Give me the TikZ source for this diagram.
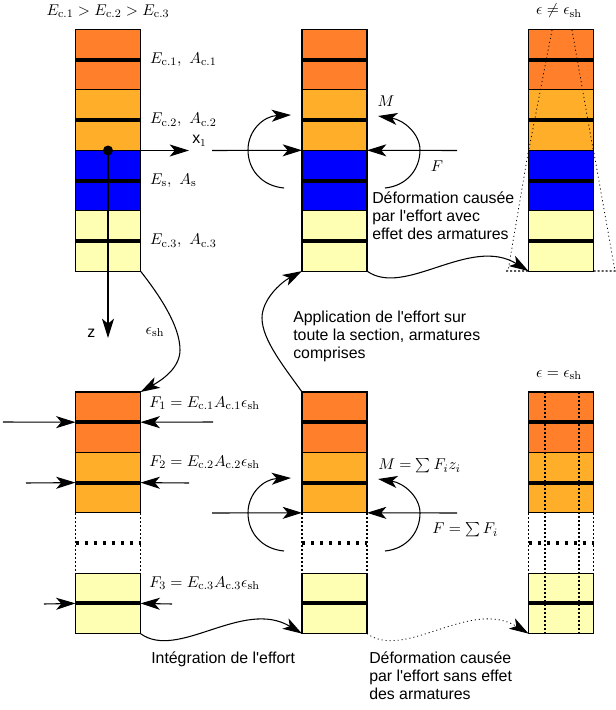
\documentclass[tikz,border=0pt]{standalone}
\usepackage{fontspec}
\setsansfont{Liberation Sans}
\usetikzlibrary{arrows.meta, positioning}
\definecolor{concone}{RGB}{255,127,42}
\definecolor{conctwo}{RGB}{255,174,41}
\definecolor{concthree}{RGB}{255,255,179}
\tikzstyle{layer} = [rectangle, draw=black, line width=0.8pt, minimum width=48.75pt, minimum height=45.3pt, inner sep=0pt, outer sep=0pt]
\tikzstyle{orangelayer} = [layer, fill=concone]
\tikzstyle{amberlayer} = [layer, fill=conctwo]
\tikzstyle{steellayer} = [layer, fill=blue]
\tikzstyle{palelayer} = [layer, fill=concthree]
\tikzstyle{gaplayer} = [layer, draw=none]
\tikzstyle{bar} = [line width=3pt]
\tikzstyle{dottedbar} = [line width=2.4pt, dash pattern=on 2.4pt off 4.35pt]
\tikzstyle{edge} = [line width=0.9pt, dash pattern=on 1.5pt off 1.5pt]
\tikzstyle{trace} = [line width=0.6pt, dash pattern=on 0.8pt off 2.2pt]
\tikzstyle{arrow} = [line width=0.8pt,-{Stealth[length=14.5pt,width=9pt,inset=3.8pt]}]
\tikzstyle{mathlabel} = [inner sep=0pt, scale=1.07, font=\fontsize{10.95}{14}\selectfont]
\tikzstyle{textlabel} = [inner sep=0pt, anchor=west, align=left, font=\sffamily\fontsize{11.9}{13.5}\selectfont]

\begin{document}
\begin{tikzpicture}[x=0.75pt, y=-0.75pt, node distance=7pt]
\useasboundingbox (0,0) rectangle (616,710);

% Top row, sections
\node (a1) [orangelayer] at (108,59.7) {};
\node (a2) [amberlayer, below=0pt of a1] {};
\node (a3) [steellayer, below=0pt of a2] {};
\node (a4) [palelayer, below=0pt of a3] {};
\node (b1) [orangelayer] at (334.5,59.7) {};
\node (b2) [amberlayer, below=0pt of b1] {};
\node (b3) [steellayer, below=0pt of b2] {};
\node (b4) [palelayer, below=0pt of b3] {};
\node (c1) [orangelayer] at (561,59.7) {};
\node (c2) [amberlayer, below=0pt of c1] {};
\node (c3) [steellayer, below=0pt of c2] {};
\node (c4) [palelayer, below=0pt of c3] {};

% Bottom row, sections
\node (d1) [orangelayer] at (108,422.2) {};
\node (d2) [amberlayer, below=0pt of d1] {};
\node (d3) [gaplayer, below=0pt of d2] {};
\node (d4) [palelayer, below=0pt of d3] {};
\node (e1) [orangelayer] at (334.5,422.2) {};
\node (e2) [amberlayer, below=0pt of e1] {};
\node (e3) [gaplayer, below=0pt of e2] {};
\node (e4) [palelayer, below=0pt of e3] {};
\node (f1) [orangelayer] at (561,422.2) {};
\node (f2) [amberlayer, below=0pt of f1] {};
\node (f3) [gaplayer, below=0pt of f2] {};
\node (f4) [palelayer, below=0pt of f3] {};

% Reinforcement bars
\draw [bar] (a1.west) -- (a1.east);
\draw [bar] (a2.west) -- (a2.east);
\draw [bar] (a3.west) -- (a3.east);
\draw [bar] (a4.west) -- (a4.east);
\draw [bar] (b1.west) -- (b1.east);
\draw [bar] (b2.west) -- (b2.east);
\draw [bar] (b3.west) -- (b3.east);
\draw [bar] (b4.west) -- (b4.east);
\draw [bar] (c1.west) -- (c1.east);
\draw [bar] (c2.west) -- (c2.east);
\draw [bar] (c3.west) -- (c3.east);
\draw [bar] (c4.west) -- (c4.east);
\draw [bar] (d1.west) -- (d1.east);
\draw [bar] (d2.west) -- (d2.east);
\draw [bar] (d4.west) -- (d4.east);
\draw [bar] (e1.west) -- (e1.east);
\draw [bar] (e2.west) -- (e2.east);
\draw [bar] (e4.west) -- (e4.east);
\draw [bar] (f1.west) -- (f1.east);
\draw [bar] (f2.west) -- (f2.east);
\draw [bar] (f4.west) -- (f4.east);

% Omitted layer
\draw [dottedbar] (d3.west) -- (d3.east);
\draw [edge] (d3.north west) -- (d3.south west);
\draw [edge] (d3.north east) -- (d3.south east);
\draw [dottedbar] (e3.west) -- (e3.east);
\draw [edge] (e3.north west) -- (e3.south west);
\draw [edge] (e3.north east) -- (e3.south east);
\draw [dottedbar] (f3.west) -- (f3.east);
\draw [edge] (f3.north west) -- (f3.south west);
\draw [edge] (f3.north east) -- (f3.south east);

% Axes
\node (origin) [circle, fill=black, inner sep=0pt, minimum size=7.5pt] at (108,150.5) {};
\coordinate (xend) at (189,150.5);
\coordinate (zend) at (108,338);
\draw [arrow] (origin.center) -- (xend);
\draw [arrow] (origin.center) -- (zend);
\node (xone) [textlabel] at (192,141) {x$_1$};
\node (zaxis) [textlabel] at (87,333) {z};

% Labels, left section
\node (eall) [mathlabel] at (108,11) {$E_{\mathrm{c.1}} > E_{\mathrm{c.2}} > E_{\mathrm{c.3}}$};
\node (la1) [mathlabel, right=of a1] {$E_{\mathrm{c.1}},\ A_{\mathrm{c.1}}$};
\node (la2) [mathlabel, right=of a2] {$E_{\mathrm{c.2}},\ A_{\mathrm{c.2}}$};
\node (la3) [mathlabel, right=of a3] {$E_{\mathrm{s}},\ A_{\mathrm{s}}$};
\node (la4) [mathlabel, right=of a4] {$E_{\mathrm{c.3}},\ A_{\mathrm{c.3}}$};
\node (esh) [mathlabel] at (155,332) {$\epsilon_{\mathrm{sh}}$};
\node (ldone) [mathlabel, anchor=west] at (149,403) {$F_1 = E_{\mathrm{c.1}} A_{\mathrm{c.1}} \epsilon_{\mathrm{sh}}$};
\node (ldtwo) [mathlabel, anchor=west] at (149,462) {$F_2 = E_{\mathrm{c.2}} A_{\mathrm{c.2}} \epsilon_{\mathrm{sh}}$};
\node (ldthree) [mathlabel, anchor=west] at (149,583) {$F_3 = E_{\mathrm{c.3}} A_{\mathrm{c.3}} \epsilon_{\mathrm{sh}}$};

% Labels, middle and right sections
\node (lm) [mathlabel] at (386,101) {$M$};
\node (lf) [mathlabel] at (437,166) {$F$};
\node (lsm) [mathlabel, anchor=west] at (378,466) {$M = \sum F_i z_i$};
\node (lsf) [mathlabel, anchor=west] at (432,530) {$F = \sum F_i$};
\node (lneq) [mathlabel] at (559,11) {$\epsilon \neq \epsilon_{\mathrm{sh}}$};
\node (leq) [mathlabel] at (559,375) {$\epsilon = \epsilon_{\mathrm{sh}}$};

% Text
\node (tavec) [textlabel] at (372,216) {D\'eformation caus\'ee\\par l\textquotesingle effort avec\\effet des armatures};
\node (tappl) [textlabel] at (293,336) {Application de l\textquotesingle effort sur\\toute la section, armatures\\comprises};
\node (tint) [textlabel] at (151,659) {Int\'egration de l\textquotesingle effort};
\node (tsans) [textlabel] at (369,676) {D\'eformation caus\'ee\\par l\textquotesingle effort sans effet\\des armatures};

% Forces, top
\coordinate (fla) at (212,150.5);
\coordinate (fra) at (457,150.5);
\draw [arrow] (fla) -- (b3.north west);
\draw [arrow] (fra) -- (b3.north east);
\coordinate (mlaf) at (284,188);
\coordinate (mlam) at (248,150);
\coordinate (mlat) at (291,115);
\coordinate (mraf) at (385,188);
\coordinate (mram) at (420,150);
\coordinate (mrat) at (378,116);
\draw [arrow] (mlaf) .. controls (262,186) and (248,170) .. (mlam) .. controls (248,130) and (264,116) .. (mlat);
\draw [arrow] (mraf) .. controls (406,186) and (420,170) .. (mram) .. controls (420,134) and (404,120) .. (mrat);

% Forces, bottom
\coordinate (flb) at (212,513);
\coordinate (frb) at (457,513);
\draw [arrow] (flb) -- (e3.north west);
\draw [arrow] (frb) -- (e3.north east);
\coordinate (mlbf) at (284,551);
\coordinate (mlbm) at (248,513);
\coordinate (mlbt) at (291,478);
\coordinate (mrbf) at (385,551);
\coordinate (mrbm) at (420,513);
\coordinate (mrbt) at (378,479);
\draw [arrow] (mlbf) .. controls (262,549) and (248,533) .. (mlbm) .. controls (248,493) and (264,479) .. (mlbt);
\draw [arrow] (mrbf) .. controls (406,549) and (420,533) .. (mrbm) .. controls (420,497) and (404,483) .. (mrbt);

% Forces on each layer
\coordinate (fone) at (3,422);
\coordinate (gone) at (213,422);
\coordinate (ftwo) at (26,483);
\coordinate (gtwo) at (189,483);
\coordinate (fthree) at (44,604);
\coordinate (gthree) at (172,604);
\draw [arrow] (fone) -- (d1.west);
\draw [arrow] (gone) -- (d1.east);
\draw [arrow] (ftwo) -- (d2.west);
\draw [arrow] (gtwo) -- (d2.east);
\draw [arrow] (fthree) -- (d4.west);
\draw [arrow] (gthree) -- (d4.east);

% Curved links
\coordinate (shmid) at (180,350);
\coordinate (appmid) at (262,318);
\draw [arrow] (a4.south east) .. controls (160,296) and (180,326) .. (shmid) .. controls (180,368) and (162,380) .. (d1.north east);
\draw [arrow] (e1.north west) .. controls (285,368) and (262,340) .. (appmid) .. controls (262,300) and (280,283) .. (b4.south west);
\draw [arrow] (b4.south east) .. controls (405,298) and (470,235) .. (c4.south west);
\draw [arrow] (d4.south east) .. controls (178,661) and (243,598) .. (e4.south west);
\draw [arrow, trace] (e4.south east) .. controls (405,661) and (470,598) .. (f4.south west);

% Deformed outline, top right
\coordinate (dla) at (552,30);
\coordinate (dlb) at (529,149);
\coordinate (dra) at (572,30);
\coordinate (drb) at (593,149);
\coordinate (dlc) at (528,153);
\coordinate (dld) at (508,271);
\coordinate (drc) at (594,153);
\coordinate (drd) at (615,271);
\coordinate (hla) at (506,271);
\coordinate (hra) at (616,271);
\draw [trace] (dla) -- (dlb);
\draw [trace] (dra) -- (drb);
\draw [trace] (dlc) -- (dld);
\draw [trace] (drc) -- (drd);
\draw [edge] (hla) -- (c4.south west);
\draw [edge] (c4.south east) -- (hra);

% Deformed outline, bottom right
\coordinate (vla) at (545,392);
\coordinate (vlb) at (545,634);
\coordinate (vra) at (579,392);
\coordinate (vrb) at (579,634);
\draw [edge] (vla) -- (vlb);
\draw [edge] (vra) -- (vrb);

\end{tikzpicture}
\end{document}
